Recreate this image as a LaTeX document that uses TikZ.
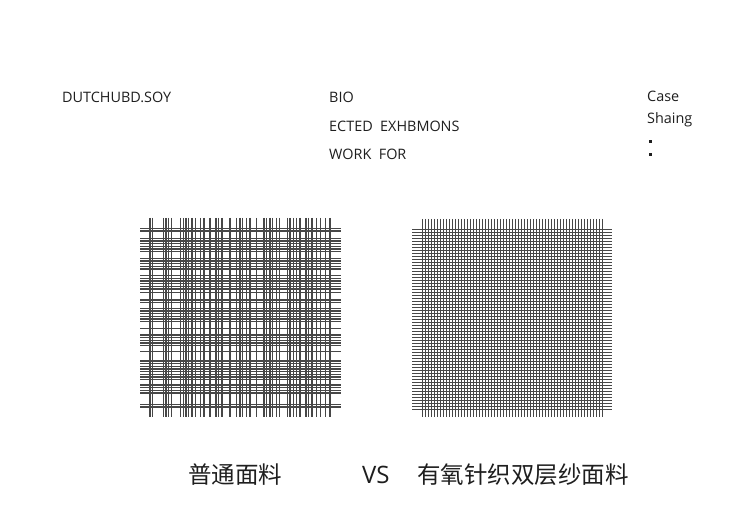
\documentclass[tikz,border=0pt]{standalone}
\usepackage{fontspec}
\setmainfont{Open Sans}
\newfontfamily\cjkfont{Noto Sans CJK SC}
\usetikzlibrary{positioning}
\definecolor{thread}{HTML}{474747}
\definecolor{inkgray}{HTML}{1E1E1E}

\begin{document}
\begin{tikzpicture}[
    x=1pt, y=-1pt,
    every node/.style={text=inkgray, inner sep=0pt},
    headtext/.style={font=\fontsize{14.4}{16}\selectfont, anchor=base west},
    captext/.style={font=\cjkfont\fontsize{23.5}{26}\selectfont, anchor=base west},
    yarn/.style={thread, line width=1.3pt},
    fineyarn/.style={thread, line width=0.85pt},
  ]

  % Page frame
  \useasboundingbox (0,0) rectangle (750,518);

  % === Header texts ===
  \node[headtext] (brand) at (62,103) {DUTCHUBD.SOY};
  \node[headtext] (bio) at (329,103) {BIO};
  \node[headtext] (ected) at (329,131.5) {ECTED\ \ EXHBMONS};
  \node[headtext] (work) at (329,159.5) {WORK\ \ FOR};
  \node[headtext] (case) at (647,101.7) {Case};
  \node[headtext] (shaing) at (647,123.5) {Shaing};
  \fill[inkgray] (649.4,140) rectangle ++(2.8,2.8);
  \fill[inkgray] (649.4,153.5) rectangle ++(2.8,2.8);

  % === Plain fabric (irregular weave) ===
  \foreach \vx in {150,152.7,163.3,166,168.7,171.3,180.7,183.3,186,188.7,192,195.3,
      200.7,204,210,216,218.7,222,230,236.7,240,242.7,246.7,250,256.7,264,266.7,
      270,272.7,276.7,279.3,287.3,290,293.3,296.7,300,306,308.7,312,316.7,320.7,
      325.3,330}
    \draw[yarn] (\vx,218) -- (\vx,417);
  \foreach \hy in {228.3,231,238.3,241,243.7,246.3,249,251.7,258.3,261,263.7,266.3,
      269,275.7,278.3,281,283.7,286.3,289,292.3,300,302.3,308.3,311,313.7,316.3,
      319,321.7,328.3,335,337.7,340.3,343,345.7,351.7,361,363.7,366.3,369,371.7,
      374.3,377,379.7,385,387.7,390.3,393,404.3,407}
    \draw[yarn] (140,\hy) -- (341,\hy);

  % === Double-layer knit fabric (dense regular weave) ===
  \foreach \i in {0,...,60}
    \draw[fineyarn] ({422+\i*3},219) -- ({422+\i*3},417);
  \foreach \i in {0,...,60}
    \draw[fineyarn] (412,{229+\i*3}) -- (612,{229+\i*3});

  % === Captions ===
  \node[captext] (plain) at (188,483) {普通面料};
  \node[font=\fontsize{24}{26}\selectfont, anchor=base west] (vs) at (362,483) {VS};
  \node[captext] (knit) at (417,483) {有氧针织双层纱面料};

\end{tikzpicture}
\end{document}
